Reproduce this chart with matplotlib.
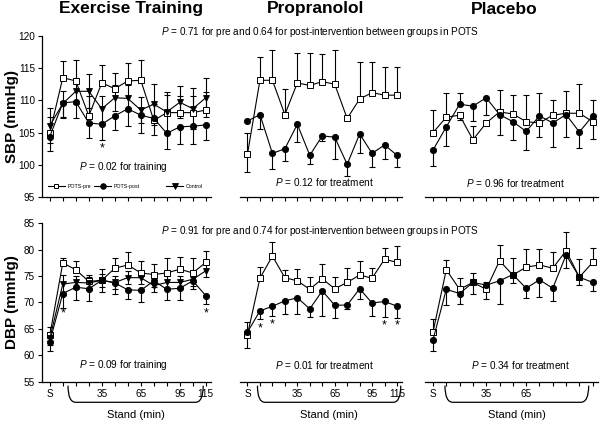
import numpy as np
import matplotlib
matplotlib.use("Agg")
import matplotlib.pyplot as plt
from matplotlib.path import Path
from matplotlib.patches import PathPatch
import matplotlib.transforms as mtrans

plt.rcParams["font.family"] = ["Liberation Sans", "DejaVu Sans"]
plt.rcParams["mathtext.fontset"] = "custom"
plt.rcParams["mathtext.it"] = "Liberation Sans:italic"
plt.rcParams["mathtext.rm"] = "Liberation Sans"

# time points: S (supine) then standing minutes 5..115
times = ["S", "5", "15", "25", "35", "45", "55", "65", "75", "85", "95", "105", "115"]
shown_ticks = ["S", "35", "65", "95", "115"]

# ---- Exercise training, SBP
ex_sbp_pre = [105.0, 113.5, 113.0, 107.6, 112.7, 111.8, 113.0, 113.1, 106.9, 108.1, 108.1, 108.1, 108.5]
ex_sbp_pre_up = [2.5, 2.6, 3.3, 3.0, 2.8, 2.4, 2.8, 3.2, 2.5, 2.8, 2.5, 2.5, 2.8]
ex_sbp_post = [104.4, 109.6, 109.8, 106.5, 106.3, 107.6, 108.7, 107.7, 107.2, 104.9, 105.9, 106.0, 106.2]
ex_sbp_post_dn = [2.2, 2.4, 2.6, 2.3, 2.4, 2.2, 2.6, 2.8, 2.6, 2.4, 2.7, 2.8, 2.4]
ex_sbp_ctrl = [106.1, 109.5, 111.4, 111.4, 108.7, 110.4, 110.3, 108.5, 109.4, 108.2, 109.7, 108.7, 110.4]
ex_sbp_ctrl_err = [2.7, 2.0, 2.0, 2.6, 2.0, 2.0, 2.0, 2.0, 3.2, 3.1, 2.5, 3.2, 3.0]

# ---- Exercise training, DBP
ex_dbp_pre = [63.8, 77.5, 76.2, 74.0, 74.2, 76.5, 77.1, 75.6, 75.3, 75.6, 76.3, 75.6, 77.6]
ex_dbp_pre_up = [1.5, 0.9, 1.7, 1.3, 2.2, 2.0, 2.4, 2.3, 2.0, 2.8, 2.3, 2.8, 2.2]
ex_dbp_post = [62.6, 71.7, 72.9, 72.6, 74.2, 73.7, 72.4, 72.3, 74.1, 72.5, 72.7, 74.1, 71.3]
ex_dbp_post_dn = [1.8, 2.7, 2.5, 2.4, 2.2, 2.0, 1.7, 2.2, 1.2, 2.1, 2.3, 1.5, 1.6]
ex_dbp_ctrl = [63.2, 73.5, 73.8, 73.7, 74.2, 73.8, 74.7, 74.7, 73.2, 73.8, 73.8, 74.4, 76.0]
ex_dbp_ctrl_err = [1.2, 1.8, 1.2, 1.2, 1.2, 1.2, 1.2, 1.2, 1.2, 1.2, 1.2, 1.2, 1.2]

# ---- Propranolol, SBP
pr_sbp_pre = [101.7, 113.1, 113.1, 107.8, 112.7, 112.3, 112.9, 112.5, 107.2, 110.2, 111.2, 110.8, 110.8]
pr_sbp_pre_up = [3.2, 3.6, 4.7, 4.0, 4.7, 5.0, 4.2, 5.3, 0.0, 5.7, 4.7, 4.4, 4.4]
pr_sbp_pre_dn = [2.8, 0, 0, 0, 0, 0, 0, 0, 0, 0, 0, 0, 0]
pr_sbp_post = [106.8, 107.8, 101.8, 102.5, 106.3, 101.5, 104.5, 104.3, 100.1, 104.8, 101.8, 103.1, 101.5]
pr_sbp_post_dn = [0.0, 2.2, 2.4, 1.9, 2.8, 1.4, 0.8, 3.4, 1.8, 3.0, 2.1, 2.2, 1.8]

# ---- Propranolol, DBP
pr_dbp_pre = [63.9, 74.6, 78.8, 74.7, 74.1, 72.5, 74.5, 72.6, 73.8, 75.2, 74.6, 78.2, 77.6]
pr_dbp_pre_up = [0.0, 2.2, 2.6, 1.5, 2.2, 2.4, 2.7, 2.3, 2.7, 2.7, 1.9, 2.2, 3.1]
pr_dbp_pre_dn = [2.5, 0, 0, 0, 0, 0, 0, 0, 0, 0, 0, 0, 0]
pr_dbp_post = [64.4, 68.4, 69.3, 70.3, 70.9, 68.8, 72.2, 69.5, 69.5, 72.6, 69.9, 70.2, 69.3]
pr_dbp_post_up = [2.0, 0, 0, 0, 0, 0, 0, 0, 0, 0, 0, 0, 0]
pr_dbp_post_dn = [0.0, 1.5, 1.8, 2.5, 3.1, 1.5, 4.7, 2.5, 0.8, 2.0, 2.4, 2.9, 2.2]

# ---- Placebo, SBP
pl_sbp_pre = [105.0, 107.4, 107.7, 103.9, 106.5, 108.2, 107.9, 106.7, 106.5, 107.7, 108.0, 108.0, 106.7]
pl_sbp_pre_up = [3.5, 3.7, 0.0, 2.2, 0.0, 3.4, 3.0, 4.2, 0.0, 2.4, 3.5, 4.5, 0.0]
pl_sbp_pre_dn = [0.0, 0.0, 0.7, 0.0, 0.0, 0.0, 0.0, 0.0, 2.1, 0.0, 0.0, 0.0, 2.7]
pl_sbp_post = [102.3, 105.9, 109.4, 109.1, 110.4, 107.8, 106.7, 105.2, 107.6, 106.5, 107.8, 105.1, 107.6]
pl_sbp_post_up = [0.0, 0.0, 1.8, 0.0, 0.0, 0.0, 0.0, 0.0, 3.5, 0.0, 0.0, 0.0, 2.5]
pl_sbp_post_dn = [2.5, 2.9, 0.0, 2.3, 2.7, 3.2, 2.8, 2.9, 0.0, 3.7, 3.5, 2.5, 0.0]

# ---- Placebo, DBP
pl_dbp_pre = [64.4, 76.2, 72.5, 73.8, 72.5, 77.9, 75.2, 76.7, 77.1, 76.5, 79.8, 74.8, 77.6]
pl_dbp_pre_up = [2.5, 1.8, 2.2, 1.7, 1.3, 2.9, 0.0, 3.4, 3.0, 3.1, 3.5, 3.4, 2.7]
pl_dbp_pre_dn = [0, 0, 0, 0, 0, 0, 1.5, 0, 0, 0, 0, 0, 0]
pl_dbp_post = [62.9, 72.5, 71.7, 73.8, 73.3, 74.1, 75.3, 72.7, 74.3, 72.7, 79.0, 74.8, 73.8]
pl_dbp_post_up = [0, 0, 0, 0, 0, 0, 3.1, 0, 0, 0, 0, 0, 0]
pl_dbp_post_dn = [2.1, 3.0, 1.9, 2.2, 2.6, 4.4, 0.0, 1.8, 3.2, 2.5, 2.5, 1.5, 1.6]

# asterisks (time index, y)
ex_sbp_stars = [(4, 102.6)]
ex_dbp_stars = [(1, 68.0), (12, 68.0)]
pr_dbp_stars = [(1, 65.0), (2, 65.9), (11, 65.6), (12, 65.6)]

# p-value notes
top_note = r"$\it{P}$ = 0.71 for pre and 0.64 for post-intervention between groups in POTS"
bot_note = r"$\it{P}$ = 0.91 for pre and 0.74 for post-intervention between groups in POTS"
ex_sbp_p = r"$\it{P}$ = 0.02 for training"
ex_dbp_p = r"$\it{P}$ = 0.09 for training"
pr_sbp_p = r"$\it{P}$ = 0.12 for treatment"
pr_dbp_p = r"$\it{P}$ = 0.01 for treatment"
pl_sbp_p = r"$\it{P}$ = 0.96 for treatment"
pl_dbp_p = r"$\it{P}$ = 0.34 for treatment"

x = np.arange(len(times))
W, H = 600, 421
fig = plt.figure(figsize=(W / 100, H / 100), dpi=100)


def box(l, b, w, h):
    return [l / W, b / H, w / W, h / H]


cols = [(42, 169), (240, 162), (425, 173)]
top_b, top_h = 223.7, 161.6
bot_b, bot_h = 39.3, 158.4
axes = {}
for r, (b, h) in enumerate([(top_b, top_h), (bot_b, bot_h)]):
    for c, (l, w) in enumerate(cols):
        axes[r, c] = fig.add_axes(box(l, b, w, h))

STYLE = {
    "pre": dict(marker="s", ms=3.8, mfc="white", mec="black", mew=0.7),
    "post": dict(marker="o", ms=4.5, mfc="black", mec="black", mew=0.6),
    "ctrl": dict(marker="v", ms=4.6, mfc="black", mec="black", mew=0.6),
}


def errs(ax, y, lo=None, hi=None):
    y = np.asarray(y, float)
    for side, e in (("lo", lo), ("hi", hi)):
        if e is None:
            continue
        e = np.asarray(e, float)
        m = e > 0
        if not m.any():
            continue
        z = np.zeros(m.sum())
        yerr = [e[m], z] if side == "lo" else [z, e[m]]
        _, caps, _ = ax.errorbar(x[m], y[m], yerr=yerr, fmt="none", ecolor="black",
                                 elinewidth=0.8, capsize=2.3, capthick=0.8, zorder=2)
        caps[1 if side == "lo" else 0].set_visible(False)


def series(ax, y, kind, lo=None, hi=None):
    errs(ax, y, lo, hi)
    return ax.plot(x, y, color="black", lw=0.8, zorder=3, **STYLE[kind])[0]


def brace(ax, x0, x1):
    tr = mtrans.blended_transform_factory(ax.transData, ax.transAxes)
    yt, yl = -0.025, -0.13
    verts = [(x0, yt), (x0, yl), (x0 + 0.6, yl), (x1 - 0.6, yl), (x1, yl), (x1, yt)]
    codes = [Path.MOVETO, Path.CURVE3, Path.CURVE3, Path.LINETO, Path.CURVE3, Path.CURVE3]
    ax.add_patch(PathPatch(Path(verts, codes), transform=tr, fill=False, lw=0.9,
                           color="black", clip_on=False))
    ax.text((x0 + x1) / 2, -0.21, "Stand (min)", transform=tr, ha="center", va="center",
            fontsize=8)


# top row
a = axes[0, 0]
h_pre = series(a, ex_sbp_pre, "pre", hi=ex_sbp_pre_up)
h_post = series(a, ex_sbp_post, "post", lo=ex_sbp_post_dn)
h_ctrl = series(a, ex_sbp_ctrl, "ctrl", lo=ex_sbp_ctrl_err, hi=ex_sbp_ctrl_err)
a = axes[0, 1]
series(a, pr_sbp_pre, "pre", lo=pr_sbp_pre_dn, hi=pr_sbp_pre_up)
series(a, pr_sbp_post, "post", lo=pr_sbp_post_dn)
a = axes[0, 2]
series(a, pl_sbp_pre, "pre", lo=pl_sbp_pre_dn, hi=pl_sbp_pre_up)
series(a, pl_sbp_post, "post", lo=pl_sbp_post_dn, hi=pl_sbp_post_up)

# bottom row
a = axes[1, 0]
series(a, ex_dbp_pre, "pre", hi=ex_dbp_pre_up)
series(a, ex_dbp_post, "post", lo=ex_dbp_post_dn)
series(a, ex_dbp_ctrl, "ctrl", lo=ex_dbp_ctrl_err, hi=ex_dbp_ctrl_err)
a = axes[1, 1]
series(a, pr_dbp_pre, "pre", lo=pr_dbp_pre_dn, hi=pr_dbp_pre_up)
series(a, pr_dbp_post, "post", lo=pr_dbp_post_dn, hi=pr_dbp_post_up)
a = axes[1, 2]
series(a, pl_dbp_pre, "pre", lo=pl_dbp_pre_dn, hi=pl_dbp_pre_up)
series(a, pl_dbp_post, "post", lo=pl_dbp_post_dn, hi=pl_dbp_post_up)

for (r, c), a in axes.items():
    a.set_xlim(-0.6, 12.4)
    if r == 0:
        a.set_ylim(95, 120)
        a.set_yticks(np.arange(95, 121, 5))
    else:
        a.set_ylim(55, 85)
        a.set_yticks(np.arange(55, 86, 5))
    for s in ("top", "right"):
        a.spines[s].set_visible(False)
    a.spines["bottom"].set_linewidth(0.9)
    a.spines["left"].set_linewidth(0.9)
    a.set_xticks(x)
    a.tick_params(length=3, width=0.8, direction="out", labelsize=7.2, pad=2)
    if r == 1:
        keep = ["S", "35", "65"] if c == 2 else shown_ticks
        a.set_xticklabels([t if t in keep else "" for t in times])
    else:
        a.set_xticklabels([])
    if c != 0:
        a.spines["left"].set_visible(False)
        a.tick_params(axis="y", left=False, labelleft=False)

for xi, yv in ex_sbp_stars:
    axes[0, 0].text(xi, yv, "*", ha="center", va="center", fontsize=9)
for xi, yv in ex_dbp_stars:
    axes[1, 0].text(xi, yv, "*", ha="center", va="center", fontsize=9)
for xi, yv in pr_dbp_stars:
    axes[1, 1].text(xi, yv, "*", ha="center", va="center", fontsize=9)

axes[0, 0].text(5.7, 99.7, ex_sbp_p, ha="center", va="center", fontsize=7.2)
axes[0, 1].text(6.2, 97.3, pr_sbp_p, ha="center", va="center", fontsize=7.2)
axes[0, 2].text(6.2, 97.2, pl_sbp_p, ha="center", va="center", fontsize=7.2)
axes[1, 0].text(5.7, 58.2, ex_dbp_p, ha="center", va="center", fontsize=7.2)
axes[1, 1].text(6.2, 58.2, pr_dbp_p, ha="center", va="center", fontsize=7.2)
axes[1, 2].text(6.6, 58.2, pl_dbp_p, ha="center", va="center", fontsize=7.2)

fig.text(320 / W, 1 - 32 / H, top_note, ha="center", va="center", fontsize=7.2)
fig.text(320 / W, 1 - 230.7 / H, bot_note, ha="center", va="center", fontsize=7.2)

for c, title in enumerate(["Exercise Training", "Propranolol", "Placebo"]):
    l, w = cols[c]
    fig.text((l + w / 2 + [5, -5, -7][c]) / W, 1 - 9 / H, title, ha="center", va="center",
             fontsize=12.5, fontweight="bold")

fig.text(12 / W, 1 - 116.5 / H, "SBP (mmHg)", rotation=90, ha="center", va="center",
         fontsize=11, fontweight="bold")
fig.text(12 / W, 1 - 302.5 / H, "DBP (mmHg)", rotation=90, ha="center", va="center",
         fontsize=11, fontweight="bold")

brace(axes[1, 0], 1.4, 11.8)
brace(axes[1, 1], 0.8, 12.3)
brace(axes[1, 2], 0.9, 11.7)

leg1 = axes[0, 0].legend([h_pre, h_post], ["POTS-pre", "POTS-post"], loc="center left",
                         bbox_to_anchor=(0.02, 0.065), ncol=2, frameon=False, fontsize=3.8,
                         handlelength=3.2, columnspacing=0.6, handletextpad=0.5,
                         borderpad=0, markerscale=0.9)
axes[0, 0].add_artist(leg1)
axes[0, 0].legend([h_ctrl], ["Control"], loc="center left", bbox_to_anchor=(0.72, 0.065),
                  frameon=False, fontsize=3.8, handlelength=3.2, handletextpad=0.5,
                  borderpad=0, markerscale=0.9)

fig.savefig("out.png", dpi=100)
